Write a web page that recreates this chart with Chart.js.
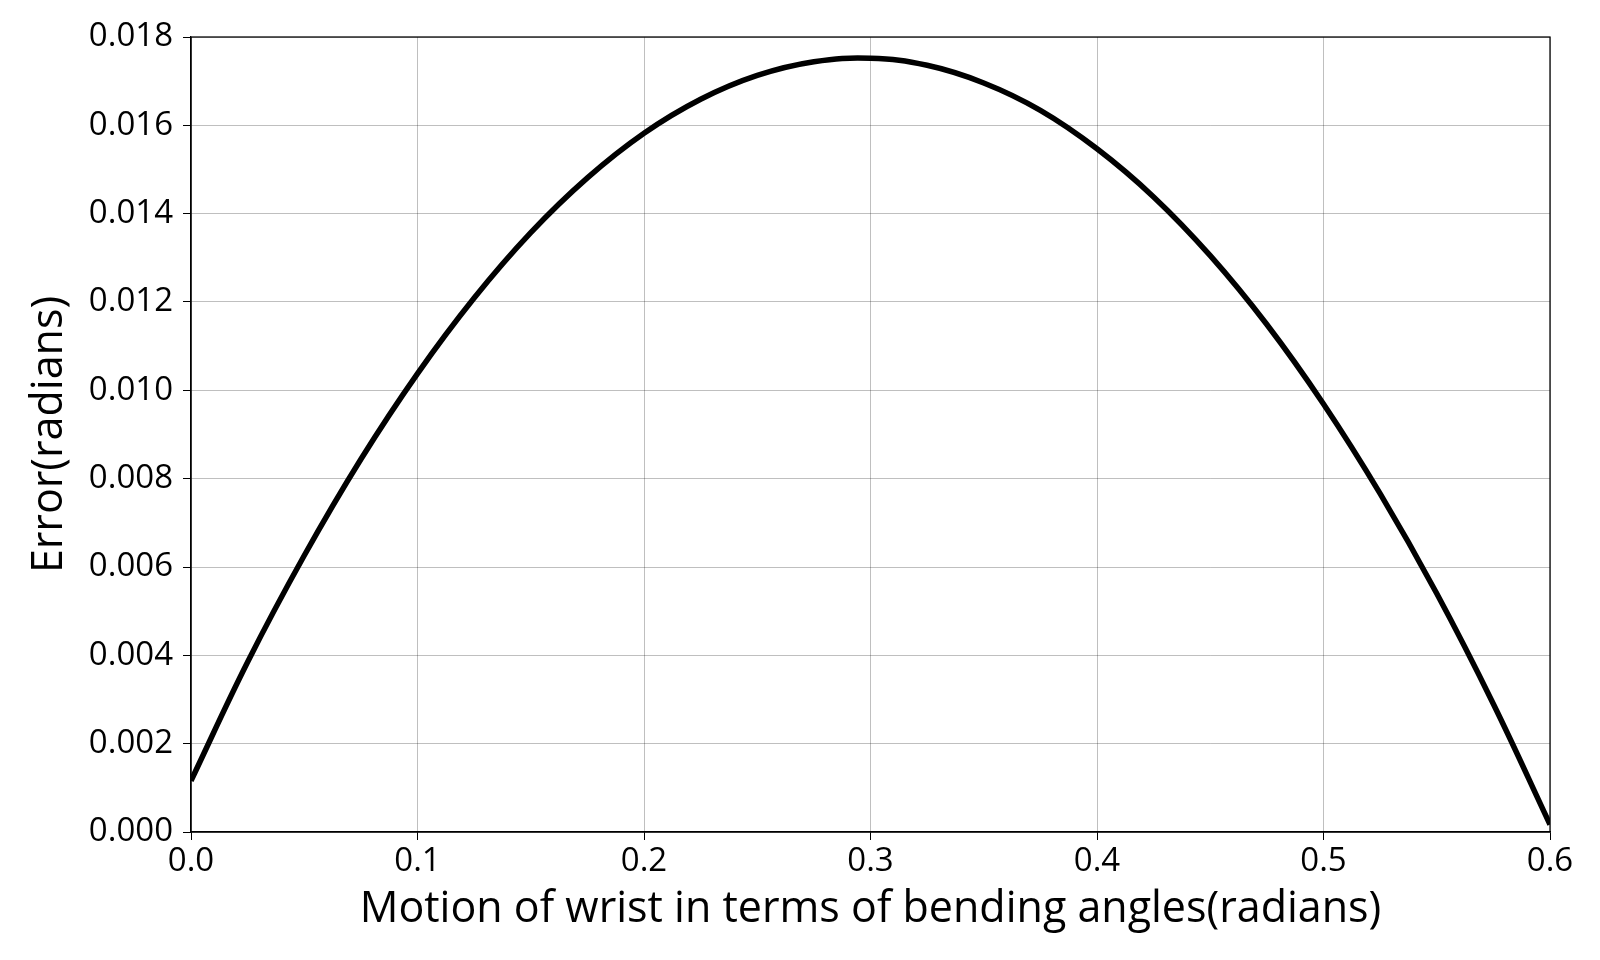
<!DOCTYPE html>
<html>
<head>
<meta charset="utf-8">
<script src="https://cdn.jsdelivr.net/npm/chart.js@4.4.1/dist/chart.umd.min.js"></script>
<style>
  html, body { margin: 0; padding: 0; background: #fff; }
  #wrap { width: 1600px; height: 960px; }
</style>
</head>
<body>
<div id="wrap"><canvas id="errorChart" width="1600" height="960"></canvas></div>
<script>
// bending angle (radians) and error (radians)
const angles = [0.0, 0.025, 0.05, 0.075, 0.1, 0.125, 0.15, 0.175, 0.2, 0.225, 0.25, 0.275,
  0.3, 0.325, 0.35, 0.375, 0.4, 0.425, 0.45, 0.475, 0.5, 0.525, 0.55, 0.575, 0.6];
const errors = [0.00116, 0.00385, 0.00626, 0.00844, 0.01038, 0.01209, 0.01357, 0.01481, 0.01582,
  0.01659, 0.01713, 0.01744, 0.01752, 0.01736, 0.01696, 0.01634, 0.01547, 0.01438, 0.01305,
  0.01149, 0.00969, 0.00766, 0.0054, 0.0029, 0.00017];

const xTicks = [0.0, 0.1, 0.2, 0.3, 0.4, 0.5, 0.6];
const yTicks = [0.000, 0.002, 0.004, 0.006, 0.008, 0.010, 0.012, 0.014, 0.016, 0.018];

const FONT = "'Open Sans', 'DejaVu Sans', sans-serif";
const ctx = document.getElementById("errorChart").getContext("2d");

// draw top and right spines like the original figure
const framePlugin = {
  id: "frame",
  afterDraw(chart) {
    const a = chart.chartArea;
    const c = chart.ctx;
    c.save();
    c.strokeStyle = "#000";
    c.lineWidth = 1.25;
    c.strokeRect(a.left, a.top, a.right - a.left, a.bottom - a.top);
    c.restore();
  },
};

new Chart(ctx, {
  type: "line",
  data: {
    datasets: [
      {
        data: angles.map((a, i) => ({ x: a, y: errors[i] })),
        borderColor: "#000",
        borderWidth: 5.5,
        pointRadius: 0,
        fill: false,
        tension: 0.4, // smooth curve through the read-off points
      },
    ],
  },
  options: {
    responsive: false,
    animation: false,
    layout: { padding: { left: 0, right: 50, top: 37, bottom: 0 } },
    plugins: { legend: { display: false }, tooltip: { enabled: false } },
    scales: {
      x: {
        type: "linear",
        min: 0,
        max: 0.6,
        afterBuildTicks: (axis) => {
          axis.ticks = xTicks.map((v) => ({ value: v }));
        },
        afterFit: (axis) => {
          axis.height = 128;
        },
        ticks: {
          color: "#000",
          font: { family: FONT, size: 33 },
          padding: 2,
          maxRotation: 0,
          callback: (v) => v.toFixed(1),
        },
        grid: { color: "rgba(0,0,0,0.25)", lineWidth: 1, tickColor: "#000", tickLength: 8 },
        border: { color: "#000", width: 1.25 },
        title: {
          display: true,
          text: "Motion of wrist in terms of bending angles(radians)",
          color: "#000",
          font: { family: FONT, size: 43 },
          padding: { top: 0, bottom: 24 },
        },
      },
      y: {
        type: "linear",
        min: 0,
        max: 0.018,
        afterBuildTicks: (axis) => {
          axis.ticks = yTicks.map((v) => ({ value: v }));
        },
        afterFit: (axis) => {
          axis.width = 191;
        },
        ticks: {
          color: "#000",
          font: { family: FONT, size: 33 },
          padding: 10,
          callback: (v) => v.toFixed(3),
        },
        grid: { color: "rgba(0,0,0,0.25)", lineWidth: 1, tickColor: "#000", tickLength: 8 },
        border: { color: "#000", width: 1.25 },
        title: {
          display: true,
          text: "Error(radians)",
          color: "#000",
          font: { family: FONT, size: 43 },
          padding: { top: 24, bottom: 0 },
        },
      },
    },
  },
  plugins: [framePlugin],
});
</script>
</body>
</html>
